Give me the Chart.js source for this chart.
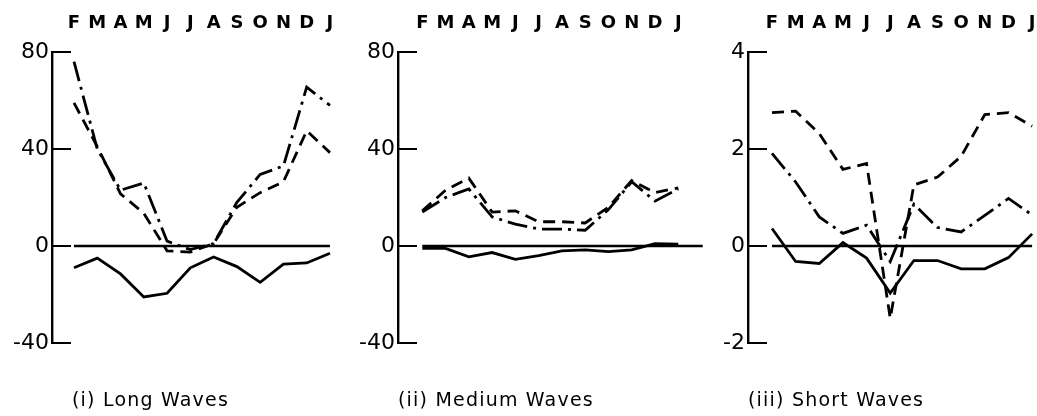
<!DOCTYPE html>
<html>
<head>
<meta charset="utf-8">
<script src="https://cdn.jsdelivr.net/npm/chart.js@4.4.1/dist/chart.umd.min.js"></script>
<style>
  body { margin: 0; background: #fff; }
  #wrap { position: relative; width: 1037px; height: 416px; overflow: hidden; }
  canvas { position: absolute; top: 0; }
  .caption {
    position: absolute; top: 388px;
    font-family: "DejaVu Sans", sans-serif; font-size: 19px; color: #000;
    letter-spacing: 1.2px; white-space: nowrap;
  }
</style>
</head>
<body>
<div id="wrap">
  <canvas id="longChart" width="345" height="416" style="left:0px"></canvas>
  <canvas id="mediumChart" width="365" height="416" style="left:345px"></canvas>
  <canvas id="shortChart" width="347" height="416" style="left:690px"></canvas>
  <div class="caption" style="left:72px">(i) Long Waves</div>
  <div class="caption" style="left:398px">(ii) Medium Waves</div>
  <div class="caption" style="left:748px">(iii) Short Waves</div>
</div>
<script>
// Meses, de febrero a enero
const months = ['F', 'M', 'A', 'M', 'J', 'J', 'A', 'S', 'O', 'N', 'D', 'J'];

// (i) ondas largas
const longSolid = [-9, -5, -11.5, -21, -19.5, -9, -4.5, -8.5, -15, -7.5, -7, -3];
const longDashed = [59, 41, 21.5, 13.5, -2, -2.5, 1, 16, 22, 26.5, 47.5, 38.5];
const longDashDot = [76, 40, 23, 26, 2, -1.5, 1, 18, 29.5, 33, 65.5, 58];
const longTicks = [-40, 0, 40, 80];

// (ii) ondas medias
const mediumSolid = [-1, -1, -4.5, -2.7, -5.5, -4, -2, -1.6, -2.3, -1.6, 1, 0.8];
const mediumDashed = [14.5, 23, 28, 14, 14.5, 10, 10, 9.5, 16, 27, 22, 24];
const mediumDashDot = [14, 20, 23.5, 12, 9, 7, 7, 6.5, 15, 26.5, 18.5, 23.5];
const mediumTicks = [-40, 0, 40, 80];

// (iii) ondas cortas
const shortSolid = [0.36, -0.32, -0.36, 0.07, -0.25, -0.97, -0.3, -0.3, -0.47, -0.47, -0.24, 0.25];
const shortDashed = [2.75, 2.78, 2.32, 1.58, 1.7, -1.49, 1.26, 1.42, 1.85, 2.71, 2.75, 2.47];
const shortDashDot = [1.91, 1.32, 0.6, 0.26, 0.43, -0.32, 0.86, 0.38, 0.29, 0.63, 0.98, 0.64];
const shortTicks = [-2, 0, 2, 4];

const ink = '#000';

// marcas del eje y hacia dentro del area
const innerTicks = {
  id: 'innerTicks',
  afterDatasetsDraw(chart, args, opts) {
    const { ctx, scales: { y } } = chart;
    ctx.save();
    ctx.strokeStyle = ink;
    ctx.lineWidth = 2;
    y.ticks.forEach(t => {
      const py = y.getPixelForValue(t.value);
      ctx.beginPath();
      ctx.moveTo(y.right, py);
      ctx.lineTo(y.right + opts.length, py);
      ctx.stroke();
    });
    ctx.restore();
  }
};

function series(values) {
  return values.map((v, i) => ({ x: i, y: v }));
}

function line(values, dash) {
  return {
    data: series(values),
    borderColor: ink,
    borderWidth: 2.8,
    borderDash: dash,
    borderJoinStyle: 'miter',
    pointRadius: 0,
    tension: 0
  };
}

function createChart(id, p) {
  const ctx = document.getElementById(id).getContext('2d');
  return new Chart(ctx, {
    type: 'line',
    data: {
      datasets: [
        {
          data: [{ x: p.zero[0], y: 0 }, { x: p.zero[1], y: 0 }],
          borderColor: ink, borderWidth: 2.4, pointRadius: 0
        },
        line(p.solid, []),
        line(p.dashed, [12, 7]),
        line(p.dashDot, [20, 6, 3, 6])
      ]
    },
    options: {
      responsive: false,
      devicePixelRatio: 1,
      animation: false,
      layout: { padding: { left: 0, top: 0, right: p.padRight, bottom: 73 } },
      plugins: {
        legend: { display: false },
        tooltip: { enabled: false },
        innerTicks: { length: 19 }
      },
      scales: {
        x: {
          type: 'linear',
          position: 'top',
          min: p.xMin,
          max: p.xMax,
          afterBuildTicks: (scale) => { scale.ticks = months.map((m, i) => ({ value: i })); },
          afterFit: (scale) => {
            scale.height = 52;
            scale.paddingLeft = 0;
            scale.paddingRight = 0;
          },
          grid: { display: false, drawTicks: false },
          border: { display: false },
          ticks: {
            autoSkip: false,
            maxRotation: 0,
            padding: 18,
            color: ink,
            font: { family: 'DejaVu Sans', size: 18, weight: 'bold' },
            callback: (v) => months[v]
          }
        },
        y: {
          min: p.ticks[0],
          max: p.ticks[p.ticks.length - 1],
          afterBuildTicks: (scale) => { scale.ticks = p.ticks.map(v => ({ value: v })); },
          afterFit: (scale) => {
            scale.width = p.axisWidth;
            scale.paddingTop = 0;
            scale.paddingBottom = 0;
          },
          grid: { display: false, drawTicks: false },
          border: { display: true, color: ink, width: 2.4 },
          ticks: {
            padding: 3,
            color: ink,
            font: { family: 'DejaVu Sans', size: 22 }
          }
        }
      }
    },
    plugins: [innerTicks]
  });
}

createChart('longChart', {
  solid: longSolid, dashed: longDashed, dashDot: longDashDot, ticks: longTicks,
  axisWidth: 52, padRight: 10, xMin: -0.945, xMax: 11.216, zero: [0, 11]
});

createChart('mediumChart', {
  solid: mediumSolid, dashed: mediumDashed, dashDot: mediumDashDot, ticks: mediumTicks,
  axisWidth: 53, padRight: 6, xMin: -1.044, xMax: 12.106, zero: [0, 12.05]
});

createChart('shortChart', {
  solid: shortSolid, dashed: shortDashed, dashDot: shortDashDot, ticks: shortTicks,
  axisWidth: 58, padRight: 3, xMin: -1.015, xMax: 11.08, zero: [0, 11]
});
</script>
</body>
</html>
